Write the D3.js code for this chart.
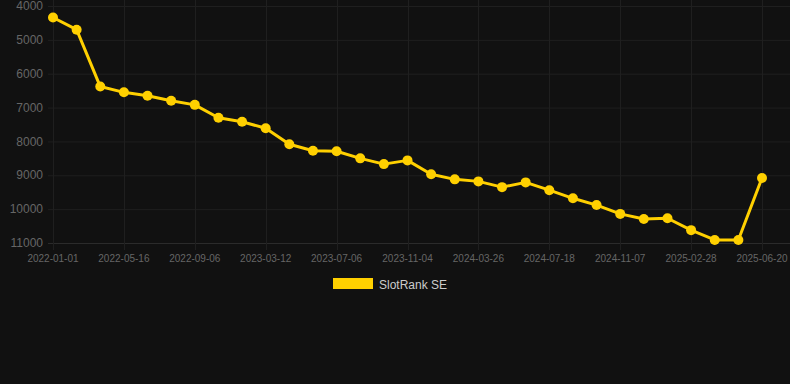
<!DOCTYPE html>
<html>
<head>
<meta charset="utf-8">
<script src="https://cdn.jsdelivr.net/npm/d3@7"></script>
<style>
  html, body { margin: 0; padding: 0; background: #111111; }
  svg { display: block; font-family: "Liberation Sans", Arial, sans-serif; }
</style>
</head>
<body>
<div id="chart"></div>
<script>
// categories (dates), only every third one gets a label
const dates = [
  "2022-01-01", "2022-02-15", "2022-03-31", "2022-05-16", "2022-06-23", "2022-07-30",
  "2022-09-06", "2022-11-07", "2023-01-08", "2023-03-12", "2023-04-20", "2023-05-28",
  "2023-07-06", "2023-08-15", "2023-09-25", "2023-11-04", "2023-12-20", "2024-02-07",
  "2024-03-26", "2024-05-03", "2024-06-10", "2024-07-18", "2024-08-24", "2024-09-30",
  "2024-11-07", "2024-12-19", "2025-01-23", "2025-02-28", "2025-04-08", "2025-05-14",
  "2025-06-20"
];

// rank values (lower is better, axis is reversed)
const ranks = [
  4340, 4700, 6380, 6550, 6650, 6800, 6920, 7300, 7420, 7610,
  8085, 8275, 8290, 8500, 8670, 8560, 8970, 9120, 9180, 9350,
  9210, 9440, 9680, 9880, 10140, 10290, 10270, 10620, 10910, 10910,
  9080
];

const yTicks = [4000, 5000, 6000, 7000, 8000, 9000, 10000, 11000];
const seriesName = "SlotRank SE";

const width = 790, height = 384;
const color = "#ffd000";
const gridColor = "#1f1f1f";

const svg = d3.select("#chart").append("svg")
  .attr("width", width)
  .attr("height", height);

const x = d3.scalePoint()
  .domain(dates)
  .range([53, 762]);

const y = d3.scaleLinear()
  .domain([4000, 11000])
  .range([6, 243]);

// horizontal grid
svg.append("g")
  .selectAll("line")
  .data(yTicks)
  .join("line")
  .attr("x1", 48)
  .attr("x2", width)
  .attr("y1", (d) => y(d) + 0.5)
  .attr("y2", (d) => y(d) + 0.5)
  .attr("stroke", (d) => d == 11000 ? "#2b2b2b" : gridColor)
  .attr("stroke-width", 1);

// vertical grid, on labelled categories only
let labelled = dates.filter((d, i) => i % 3 == 0);
svg.append("g")
  .selectAll("line")
  .data(labelled)
  .join("line")
  .attr("x1", (d) => Math.round(x(d)) + 0.5)
  .attr("x2", (d) => Math.round(x(d)) + 0.5)
  .attr("y1", 0)
  .attr("y2", 250)
  .attr("stroke", gridColor)
  .attr("stroke-width", 1);

// y labels
svg.append("g")
  .selectAll("text")
  .data(yTicks)
  .join("text")
  .attr("x", 43)
  .attr("y", (d) => y(d))
  .attr("dy", "0.35em")
  .attr("text-anchor", "end")
  .attr("fill", "#666666")
  .attr("font-size", 12)
  .text((d) => d);

// x labels
svg.append("g")
  .selectAll("text")
  .data(labelled)
  .join("text")
  .attr("x", (d) => x(d))
  .attr("y", 262)
  .attr("text-anchor", "middle")
  .attr("fill", "#666666")
  .attr("font-size", 10)
  .text((d) => d);

// series
let points = dates.map((d, i) => ({ date: d, value: ranks[i] }));

let line = d3.line()
  .x((d) => x(d.date))
  .y((d) => y(d.value));

svg.append("path")
  .datum(points)
  .attr("d", line)
  .attr("fill", "none")
  .attr("stroke", color)
  .attr("stroke-width", 3)
  .attr("stroke-linejoin", "round");

svg.append("g")
  .selectAll("circle")
  .data(points)
  .join("circle")
  .attr("cx", (d) => x(d.date))
  .attr("cy", (d) => y(d.value))
  .attr("r", 5)
  .attr("fill", color);

// legend
let legend = svg.append("g");
legend.append("rect")
  .attr("x", 333)
  .attr("y", 278)
  .attr("width", 40)
  .attr("height", 11)
  .attr("fill", color);
legend.append("text")
  .attr("x", 379)
  .attr("y", 285)
  .attr("dy", "0.35em")
  .attr("fill", "#cccccc")
  .attr("font-size", 12)
  .text(seriesName);
</script>
</body>
</html>
